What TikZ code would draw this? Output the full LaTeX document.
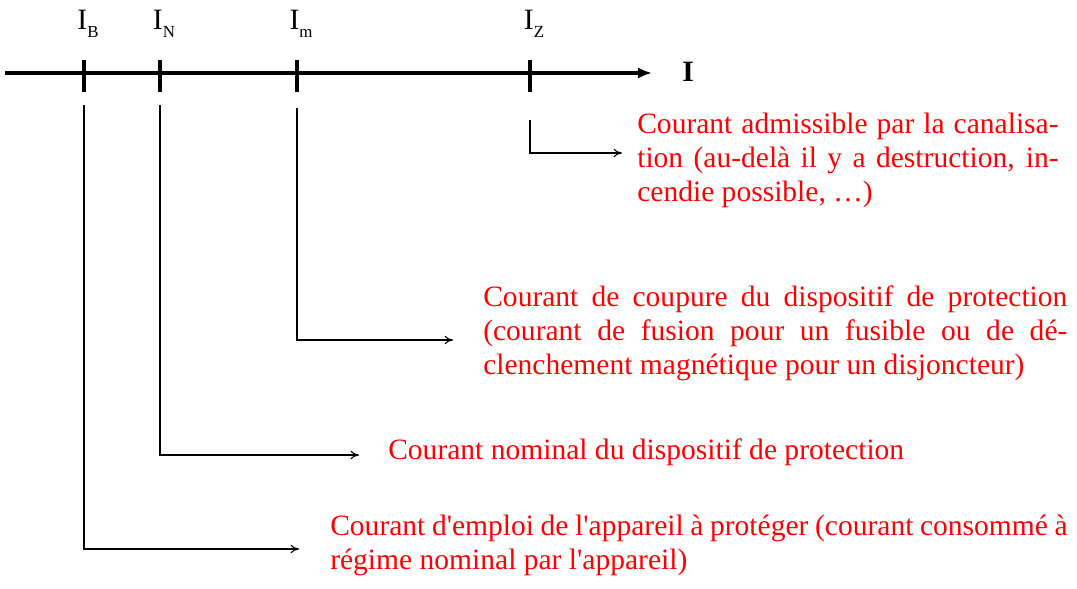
\documentclass[tikz,border=0pt]{standalone}
\usepackage{fontspec}
\setmainfont{Liberation Serif}
\usetikzlibrary{arrows.meta,positioning}

\begin{document}
\begin{tikzpicture}[x=0.025cm,y=-0.025cm,
	font=\fontsize{21pt}{24.2pt}\selectfont
	]
\tikzset{
	axis/.style = { line width=2.4pt, -{Latex[length=10pt,width=8pt]} },
	tick/.style = { line width=2.4pt },
	lead/.style = { line width=0.8pt, -{To[length=6pt,width=6pt]} },
	expl/.style = { anchor=north west, inner sep=0pt, text=red, align=justify },
	sym/.style = { inner sep=0pt }
}
	\useasboundingbox (0,0) rectangle (1077,589);

	% axis
	\coordinate (left) at (5,73);
	\coordinate (right) at (652,73);
	\draw [axis] (left) -- (right);
	\node (axisI) [sym, font=\fontsize{21pt}{22pt}\selectfont\bfseries] at (688,72) {I};

	% ticks
	\foreach \name/\x/\sub in {B/84/B, N/160/N, m/297/m, Z/530/Z} {
		\coordinate (tickTop\name) at (\x,60);
		\coordinate (tickBot\name) at (\x,92);
		\draw [tick] (tickTop\name) -- (tickBot\name);
		\node (lab\name) [sym] at (\x+4,24) {I\raisebox{-0.6ex}{\fontsize{12pt}{12pt}\selectfont\sub}};
	}

	% explanations
	\node (txtZ) [expl, text width=10.53cm] at (637,113) {Courant admissible par la canalisation (au-del\`a il y a destruction, incendie possible, \dots)};
	\node (txtm) [expl, text width=14.6cm] at (483,285) {Courant de coupure du dispositif de protection (courant de fusion pour un fusible ou de d\'eclenchement magn\'etique pour un disjoncteur)};
	\node (txtN) [expl] at (388,438) {Courant nominal du dispositif de protection};
	\node (txtB) [expl, text width=18.43cm] at (330,515) {Courant d\textquotesingle emploi de l\textquotesingle appareil \`a prot\'eger (courant consomm\'e \`a r\'egime nominal par l\textquotesingle appareil)};

	% leaders
	\coordinate (startZ) at (530,120);
	\coordinate (endZ) at (622,153);
	\coordinate (startm) at (297,108);
	\coordinate (endm) at (453,340);
	\coordinate (startN) at (160,105);
	\coordinate (endN) at (359,455);
	\coordinate (startB) at (84,105);
	\coordinate (endB) at (299,549);
	\foreach \name in {Z,m,N,B}
		\draw [lead] (start\name) |- (end\name);

\end{tikzpicture}
\end{document}
